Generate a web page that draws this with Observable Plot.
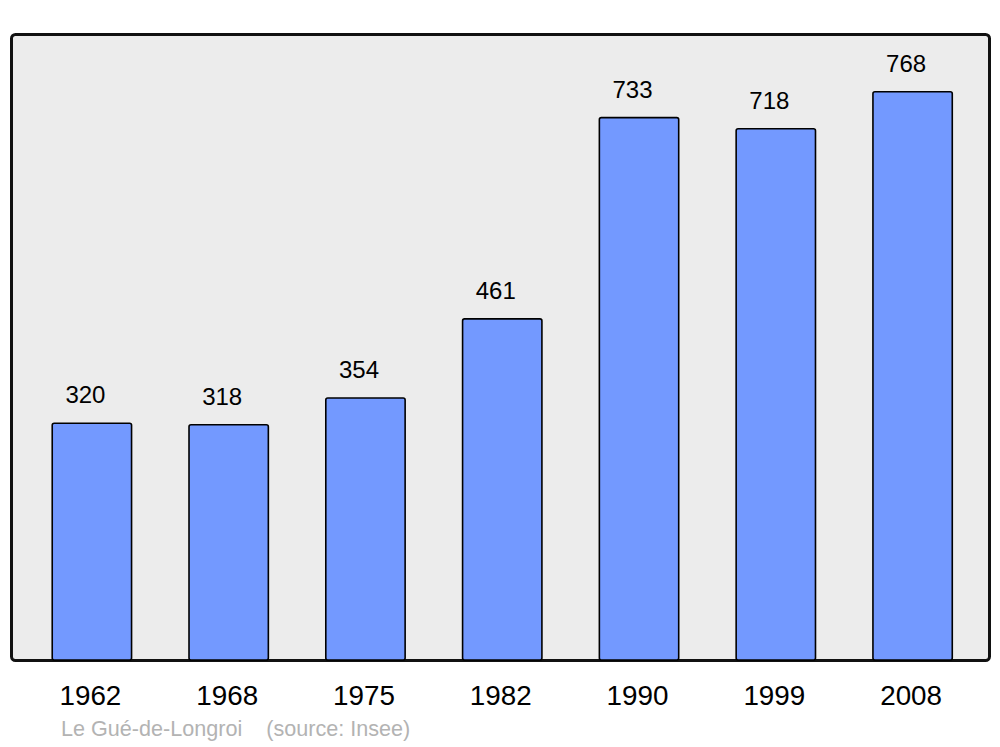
<!DOCTYPE html>
<html>
<head>
<meta charset="utf-8">
<script src="https://cdn.jsdelivr.net/npm/d3@7"></script>
<script src="https://cdn.jsdelivr.net/npm/@observablehq/plot@0.6"></script>
<style>
  html, body { margin: 0; padding: 0; background: #ffffff; }
  #wrap { position: relative; width: 1000px; height: 747px; }
  #caption { position: absolute; left: 61px; top: 718px; line-height: 1; font-family: "Liberation Sans", Arial, sans-serif; font-size: 21.6px; color: #b3b3b3; white-space: pre; }
</style>
</head>
<body>
<div id="wrap"><div id="chart"></div><div id="caption">Le Gué-de-Longroi    (source: Insee)</div></div>
<script>
const years = ["1962", "1968", "1975", "1982", "1990", "1999", "2008"];
const population = [320, 318, 354, 461, 733, 718, 768];

const data = years.map((y, i) => ({year: y, pop: population[i]}));

const chart = Plot.plot({
  width: 1000,
  height: 715,
  marginLeft: 11,
  marginRight: 11,
  marginTop: 34,
  marginBottom: 55,
  style: {fontFamily: "'Liberation Sans', Arial, sans-serif", background: "transparent"},
  x: {domain: years, range: [23.5, 981], paddingInner: 0.42, paddingOuter: 0.21, round: false, label: null},
  y: {domain: [0, 846], axis: null},
  marks: [
    Plot.frame({fill: "#ececec", stroke: "#111111", strokeWidth: 3, rx: 4}),
    Plot.barY(data, {x: "year", y: "pop", fill: "#7399ff", stroke: "#000000", strokeWidth: 1.6, rx: 2}),
    Plot.text(data, {x: "year", y: "pop", text: d => String(d.pop), dy: -28, dx: -7, fontSize: 24, fill: "#000000"}),
    Plot.axisX({tickSize: 0, tickPadding: 25, fontSize: 27.8, dx: -2, label: null, color: "#000000"})
  ]
});
document.getElementById("chart").appendChild(chart);
</script>
</body>
</html>
